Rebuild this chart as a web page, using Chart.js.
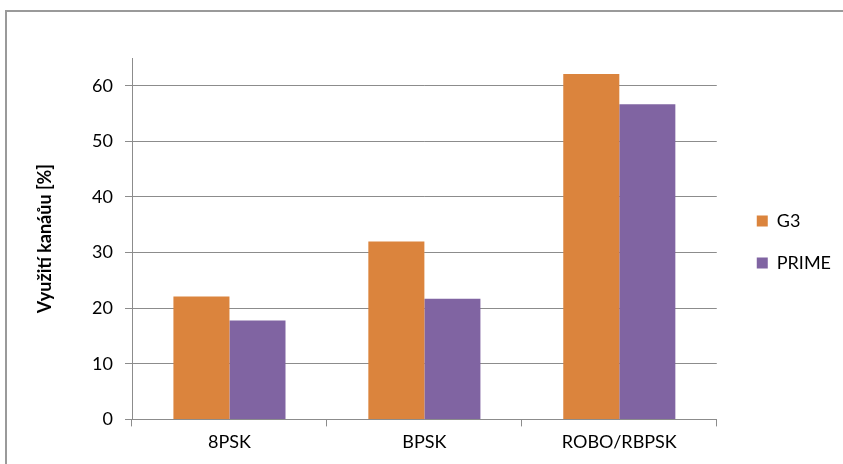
<!DOCTYPE html>
<html>
<head>
<meta charset="utf-8">
<script src="https://cdn.jsdelivr.net/npm/chart.js@4.4.1/dist/chart.umd.min.js"></script>
<style>
  html, body { margin: 0; padding: 0; background: #fff; }
  #wrap { position: relative; width: 843px; height: 464px; }
  #frame {
    position: absolute; left: 5px; top: 10px; right: -10px; bottom: -10px;
    border-left: 2px solid #9a9a9a; border-top: 2px solid #9a9a9a;
    pointer-events: none;
  }
  canvas { position: absolute; left: 0; top: 0; }
</style>
</head>
<body>
<div id="wrap">
  <canvas id="myChart" width="843" height="464"></canvas>
  <div id="frame"></div>
</div>
<script>
// data
const categories = ["8PSK", "BPSK", "ROBO/RBPSK"];
const g3Values = [22.1, 32.0, 62.1];
const primeValues = [17.8, 21.7, 56.7];
const seriesNames = ["G3", "PRIME"];

const FONT = "Lato, 'Open Sans', sans-serif";
const gridGray = "#8c8c8c";

// nudge the legend a bit right and up, like the excel one
const legendShift = {
  id: "legendShift",
  afterLayout(chart) {
    const lg = chart.legend;
    if (!lg) return;
    lg.left += 16;
    lg.right += 16;
    lg.top -= 16;
    lg.bottom -= 16;
  },
};

const ctx = document.getElementById("myChart").getContext("2d");
new Chart(ctx, {
  type: "bar",
  data: {
    labels: categories,
    datasets: [
      {
        label: seriesNames[0],
        data: g3Values,
        backgroundColor: "#db843d",
        borderWidth: 0,
      },
      {
        label: seriesNames[1],
        data: primeValues,
        backgroundColor: "#8064a2",
        borderWidth: 0,
      },
    ],
  },
  plugins: [legendShift],
  options: {
    responsive: false,
    animation: false,
    layout: { padding: { left: 34, top: 58, right: 18, bottom: 6 } },
    datasets: {
      bar: { categoryPercentage: 0.575, barPercentage: 1.0 },
    },
    plugins: {
      tooltip: { enabled: false },
      legend: {
        position: "right",
        labels: {
          boxWidth: 11,
          boxHeight: 11,
          padding: 24,
          color: "#000",
          font: { family: FONT, size: 18 },
        },
      },
    },
    scales: {
      x: {
        grid: {
          drawOnChartArea: false,
          color: gridGray,
          tickLength: 7,
        },
        border: { color: gridGray, width: 1 },
        ticks: {
          color: "#000",
          padding: 5,
          font: { family: FONT, size: 18 },
        },
      },
      y: {
        min: 0,
        max: 65,
        afterBuildTicks: (axis) => {
          axis.ticks = axis.ticks.filter((t) => t.value % 10 === 0);
        },
        afterFit: (axis) => {
          axis.width = 98;
        },
        grid: { color: gridGray, lineWidth: 1, tickLength: 7 },
        border: { color: gridGray, width: 1 },
        ticks: {
          stepSize: 10,
          color: "#000",
          padding: 12,
          font: { family: FONT, size: 18 },
        },
        title: {
          display: true,
          text: "Využití kanáůu [%]",
          color: "#000",
          padding: { top: 0, bottom: 4 },
          font: { family: FONT, size: 18, weight: "bold" },
        },
      },
    },
  },
});
</script>
</body>
</html>
